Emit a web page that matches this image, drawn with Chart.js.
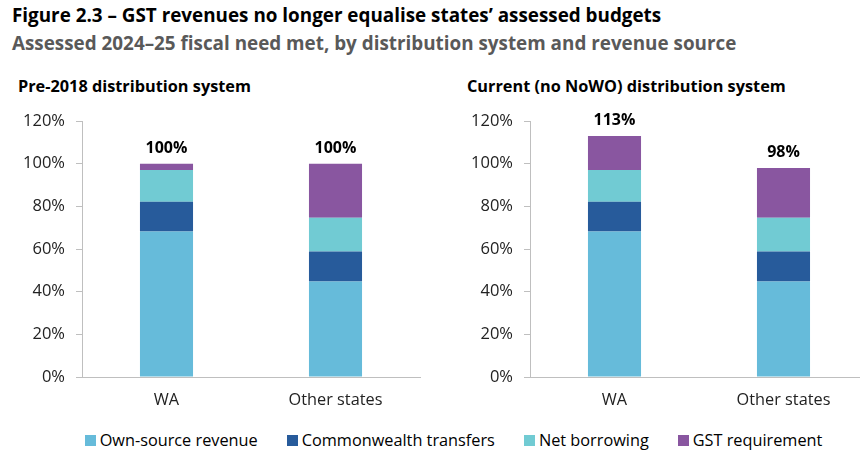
<!DOCTYPE html>
<html><head><meta charset="utf-8">
<script src="https://cdn.jsdelivr.net/npm/chart.js@4.4.1/dist/chart.umd.min.js"></script>
<style>
html,body{margin:0;padding:0;width:860px;height:461px;overflow:hidden;background:#fff;font-family:"Open Sans",sans-serif;}
.t{position:absolute;white-space:nowrap;font-weight:bold;}
#title{left:12px;top:2px;font-size:18.85px;color:#000;}
#subtitle{left:12px;top:30px;font-size:18.85px;color:#595959;}
#st1{left:18px;top:75px;font-size:16.3px;color:#000;}
#st2{left:467px;top:75px;font-size:16.3px;color:#000;}
#c1wrap{position:absolute;left:0;top:100px;width:430px;height:320px;}
#c2wrap{position:absolute;left:430px;top:100px;width:440px;height:320px;}
#legend{position:absolute;left:0;top:429px;width:907px;display:flex;justify-content:center;font-size:16.3px;color:#000;}
.li{display:flex;align-items:center;margin:0 14.5px;}
.sw{width:11px;height:11px;margin-right:4px;}
</style></head>
<body>
<div class="t" id="title">Figure 2.3 – GST revenues no longer equalise states’ assessed budgets</div>
<div class="t" id="subtitle">Assessed 2024–25 fiscal need met, by distribution system and revenue source</div>
<div class="t" id="st1">Pre-2018 distribution system</div>
<div class="t" id="st2">Current (no NoWO) distribution system</div>
<div id="c1wrap"><canvas id="c1"></canvas></div>
<div id="c2wrap"><canvas id="c2"></canvas></div>
<div id="legend"></div>
<script>
const categories = ['WA', 'Other states'];
const seriesNames = ['Own-source revenue', 'Commonwealth transfers', 'Net borrowing', 'GST requirement'];
const seriesColors = ['#66BBDA', '#275B9B', '#71CBD3', '#8956A0'];
const ownSource = [68.2, 44.8];
const cwthTransfers = [14.0, 14.0];
const netBorrowing = [14.8, 15.8];
const gstPre2018 = [3.0, 25.4];
const gstCurrent = [16.0, 23.4];
const yTickValues = [0, 20, 40, 60, 80, 100, 120];

const totalsPlugin = {
  id: 'totals',
  afterDatasetsDraw(chart) {
    const ctx = chart.ctx;
    const n = chart.data.datasets.length;
    const meta = chart.getDatasetMeta(n - 1);
    ctx.save();
    ctx.font = 'bold 16px "Open Sans"';
    ctx.fillStyle = '#000';
    ctx.textAlign = 'center';
    ctx.textBaseline = 'middle';
    chart.data.labels.forEach((lab, i) => {
      let total = 0;
      chart.data.datasets.forEach(ds => total += ds.data[i]);
      const el = meta.data[i];
      ctx.fillText(Math.round(total) + '%', el.x, el.y - 15);
    });
    ctx.restore();
  }
};

function makeChart(id, gst, axisWidth, padRight) {
  const series = [ownSource, cwthTransfers, netBorrowing, gst];
  return new Chart(document.getElementById(id), {
    type: 'bar',
    data: {
      labels: categories,
      datasets: series.map((d, k) => ({
        label: seriesNames[k],
        data: d,
        backgroundColor: seriesColors[k],
        borderWidth: 0,
        categoryPercentage: 1,
        barPercentage: 0.314
      }))
    },
    options: {
      responsive: true,
      maintainAspectRatio: false,
      animation: false,
      layout: { padding: { top: 21, right: padRight, bottom: 0, left: 0 } },
      plugins: { legend: { display: false }, tooltip: { enabled: false } },
      scales: {
        x: {
          stacked: true,
          grid: { display: false, drawTicks: false },
          border: { display: true, color: '#BFBFBF', width: 1 },
          ticks: { color: '#222', font: { family: 'Open Sans', size: 16.3 }, padding: 14 },
          afterFit(s) { s.height = 43; }
        },
        y: {
          stacked: true,
          min: 0, max: 120,
          afterBuildTicks(s) { s.ticks = yTickValues.map(v => ({ value: v })); },
          grid: { drawOnChartArea: false, drawTicks: true, tickLength: 6, color: '#BFBFBF' },
          border: { display: true, color: '#BFBFBF', width: 1 },
          ticks: { color: '#222', font: { family: 'Open Sans', size: 16.5 }, padding: 11, callback: v => v + '%' },
          afterFit(s) { s.width = axisWidth; }
        }
      }
    },
    plugins: [totalsPlugin]
  });
}

makeChart('c1', gstPre2018, 82, 10);
makeChart('c2', gstCurrent, 100, 2);

const legend = document.getElementById('legend');
seriesNames.forEach((name, k) => {
  const it = document.createElement('div');
  it.className = 'li';
  const sw = document.createElement('div');
  sw.className = 'sw';
  sw.style.background = seriesColors[k];
  const tx = document.createElement('span');
  tx.textContent = name;
  it.appendChild(sw); it.appendChild(tx);
  legend.appendChild(it);
});
</script>
</body></html>
